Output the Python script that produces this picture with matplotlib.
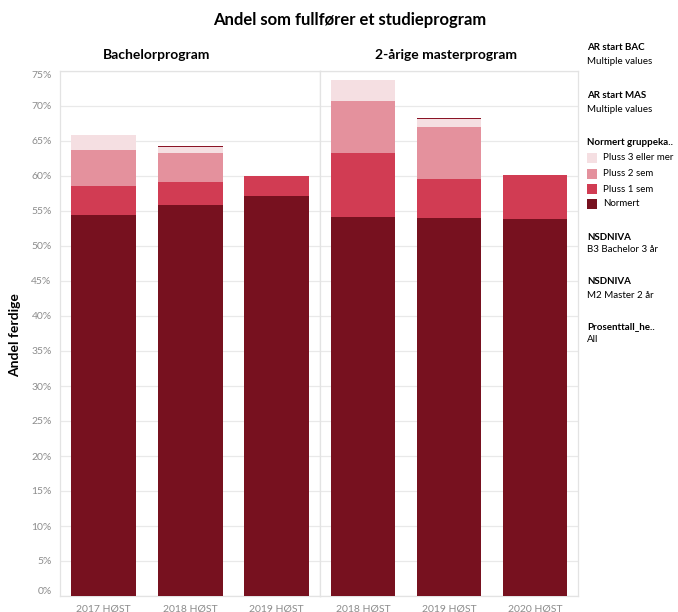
import matplotlib
matplotlib.use("Agg")
import matplotlib.pyplot as plt
from matplotlib.patches import Rectangle

plt.rcParams['font.family'] = ['Lato', 'DejaVu Sans']

# data (percent)
panels = ["Bachelorprogram", "2-årige masterprogram"]
bac_years = ["2017 HØST", "2018 HØST", "2019 HØST"]
mas_years = ["2018 HØST", "2019 HØST", "2020 HØST"]
categories = ["Normert", "Pluss 1 sem", "Pluss 2 sem", "Pluss 3 eller mer", "Annet"]
bac_normert = [54.4, 55.8, 57.1]
bac_pluss1 = [4.2, 3.3, 2.9]
bac_pluss2 = [5.1, 4.2, 0.0]
bac_pluss3 = [2.1, 0.8, 0.0]
bac_annet = [0.0, 0.2, 0.0]
mas_normert = [54.1, 54.0, 53.9]
mas_pluss1 = [9.2, 5.6, 6.2]
mas_pluss2 = [7.4, 7.4, 0.0]
mas_pluss3 = [3.0, 1.1, 0.0]
mas_annet = [0.0, 0.2, 0.0]
colors = ["#77111f", "#d13c53", "#e4919d", "#f5dfe2", "#8a1426"]
yticks = list(range(0, 80, 5))

W, H = 678, 612
fig = plt.figure(figsize=(W / 100, H / 100), dpi=100)

def fx(px):
    return px / W

def fy(py):
    return 1 - py / H

bottom, top = fy(596), fy(71)
ax1 = fig.add_axes([fx(60), bottom, fx(320) - fx(60), top - bottom])
ax2 = fig.add_axes([fx(320), bottom, fx(578) - fx(320), top - bottom], sharey=ax1)

grid_c = "#e9e9e9"
tick_c = "#8c8c8c"

for ax, years, series in [
    (ax1, bac_years, [bac_normert, bac_pluss1, bac_pluss2, bac_pluss3, bac_annet]),
    (ax2, mas_years, [mas_normert, mas_pluss1, mas_pluss2, mas_pluss3, mas_annet]),
]:
    x = range(len(years))
    base = [0.0] * len(years)
    for vals, col in zip(series, colors):
        ax.bar(x, vals, bottom=base, width=0.75, color=col, zorder=3, linewidth=0)
        base = [b + v for b, v in zip(base, vals)]
    ax.set_xlim(-0.5, len(years) - 0.5)
    ax.set_ylim(0, 75)
    ax.set_yticks(yticks)
    ax.grid(axis="y", color=grid_c, linewidth=0.9, zorder=0)
    ax.set_xticks(list(x))
    ax.set_xticklabels(years, fontsize=7.5, color=tick_c)
    ax.tick_params(axis="x", length=0, pad=6)
    ax.tick_params(axis="y", length=0)
    for s in ax.spines.values():
        s.set_color("#e3e3e3")
        s.set_linewidth(0.9)

ax1.set_yticklabels([f"{t}%" for t in yticks], fontsize=7.5, color=tick_c)
ax1.tick_params(axis="y", pad=6)
ylabs = ax1.get_yticklabels()
ylabs[0].set_va("bottom")
ylabs[-1].set_va("top")
plt.setp(ax2.get_yticklabels(), visible=False)

fig.text(fx(15), fy(335), "Andel ferdige", rotation=90, ha="center", va="center",
         fontsize=10, fontweight="bold")
fig.text(fx(157), fy(55), panels[0], ha="center", va="center", fontsize=10, fontweight="bold")
fig.text(fx(446), fy(55), panels[1], ha="center", va="center", fontsize=10, fontweight="bold")
fig.text(fx(350), fy(20), "Andel som fullfører et studieprogram",
         ha="center", va="center", fontsize=12, fontweight="bold")

# side panel (filters + legend)
lx = fx(587)
def side(py, head, sub=None):
    fig.text(lx, fy(py), head, fontsize=7, fontweight="bold", va="center")
    if sub:
        fig.text(lx, fy(py + 13), sub, fontsize=7, va="center")

side(48, "AR start BAC", "Multiple values")
side(96, "AR start MAS", "Multiple values")
side(142, "Normert gruppeka..")
leg_y = [158, 174, 189, 204]
leg_idx = [3, 2, 1, 0]
for py, i in zip(leg_y, leg_idx):
    fig.patches.append(Rectangle((lx, fy(py + 5)), fx(10), fy(py - 5) - fy(py + 5),
                                 transform=fig.transFigure, color=colors[i], linewidth=0))
    fig.text(lx + fx(16), fy(py), categories[i], fontsize=7, va="center")
side(237, "NSDNIVA", "B3 Bachelor 3 år")
side(282, "NSDNIVA", "M2 Master 2 år")
side(327, "Prosenttall_he..", "All")

fig.savefig("out.png", dpi=100, facecolor="white")
